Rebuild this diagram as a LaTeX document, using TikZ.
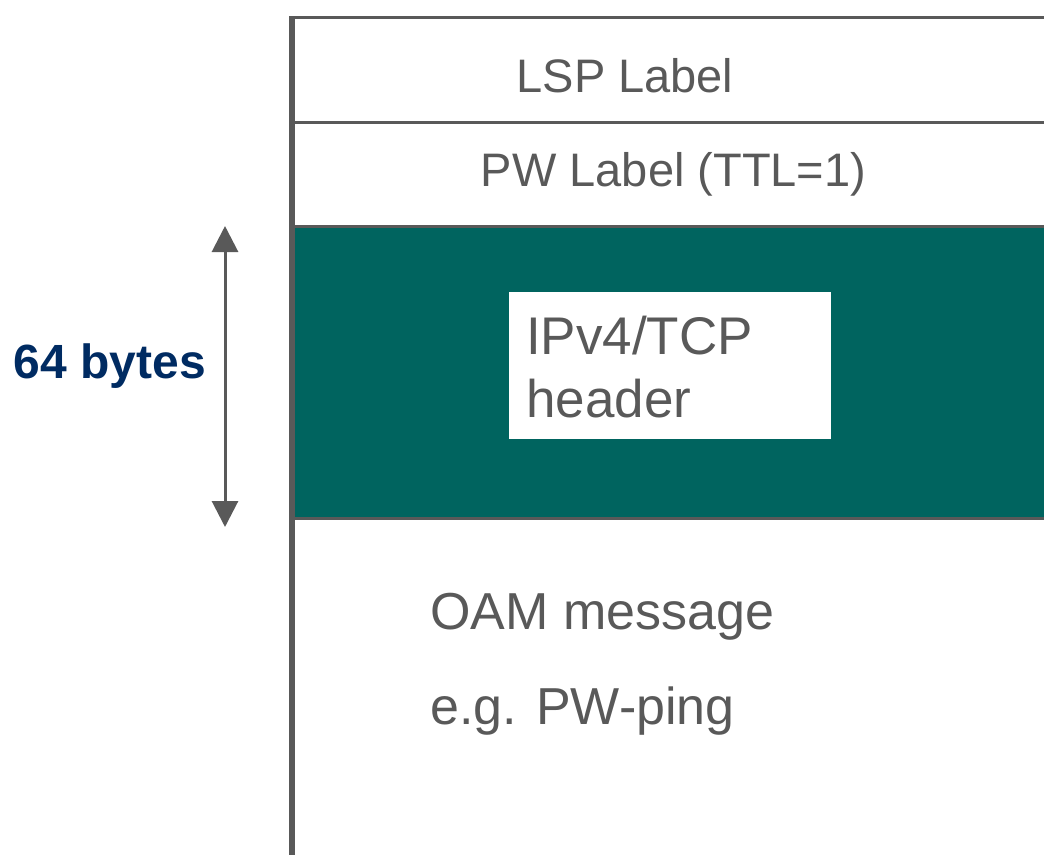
\documentclass[tikz,border=0pt]{standalone}
\usepackage{fontspec}
\setmainfont{Liberation Sans}
\usetikzlibrary{arrows.meta,positioning,calc}
\def\rulewidth{3pt}
\def\wallwidth{6pt}
\def\labelsize{47}
\def\headersize{53}
\def\bodysize{52}
\def\tipsize{26pt}
\definecolor{slate}{HTML}{595959}
\definecolor{pine}{HTML}{00645F}
\definecolor{navy}{HTML}{002B62}

\begin{document}
\begin{tikzpicture}[x=1pt,y=-1pt,myarrow/.style={arrows={Triangle[width=\tipsize,length=\tipsize]-Triangle[width=\tipsize,length=\tipsize]}}]
    \tikzstyle{field}=[inner sep=0pt,text=slate,font=\fontsize{\labelsize}{56}\selectfont]
    \tikzstyle{big field}=[field,font=\fontsize{\headersize}{64}\selectfont]
    \tikzstyle{body field}=[field,font=\fontsize{\bodysize}{62}\selectfont]
    \tikzstyle{rule}=[draw=slate,line width=\rulewidth]
    \tikzstyle{hdrbox}=[fill=white,minimum width=322pt,minimum height=147pt,inner sep=0pt]
    \useasboundingbox (0,0) rectangle (1044,855);

    % Draw the layers
    \fill[pine] (291,226) rectangle (1044,518);
    \foreach \y in {17.5,122,226,518}
        \draw[rule] (291,\y) -- (1044,\y);
    \draw[draw=slate,line width=\wallwidth] (291.5,16) -- (291.5,855);

    % Labels of the stack
    \node[field, anchor=base] (lsp) at (625,92.7) {LSP Label};
    \node[field, anchor=base] (pw) at (673.5,186.7) {PW Label (TTL=1)};

    \node[hdrbox] (hdr) at (670,365.5) {};
    \node[big field, anchor=base west] (ipv4) at (526,354) {IPv4/TCP};
    \node[big field, anchor=base west] (hdrword) at ($(ipv4.base west)+(0,63)$) {header};

    \node[body field, anchor=base west] (oam) at (430,629) {OAM message};
    \node[body field, anchor=base west] (ping) at ($(oam.base west)+(0,95)$) {e.g. PW-ping};

    % Size of the header
    \coordinate (top) at (225,226);
    \coordinate (bot) at (225,527);
    \draw[myarrow,draw=slate,fill=slate,line width=3pt] (top) -- (bot);
    \node[field, text=navy, font=\fontsize{48}{56}\selectfont\bfseries, anchor=base east] (bytes) at (206,378) {64 bytes};
\end{tikzpicture}
\end{document}
